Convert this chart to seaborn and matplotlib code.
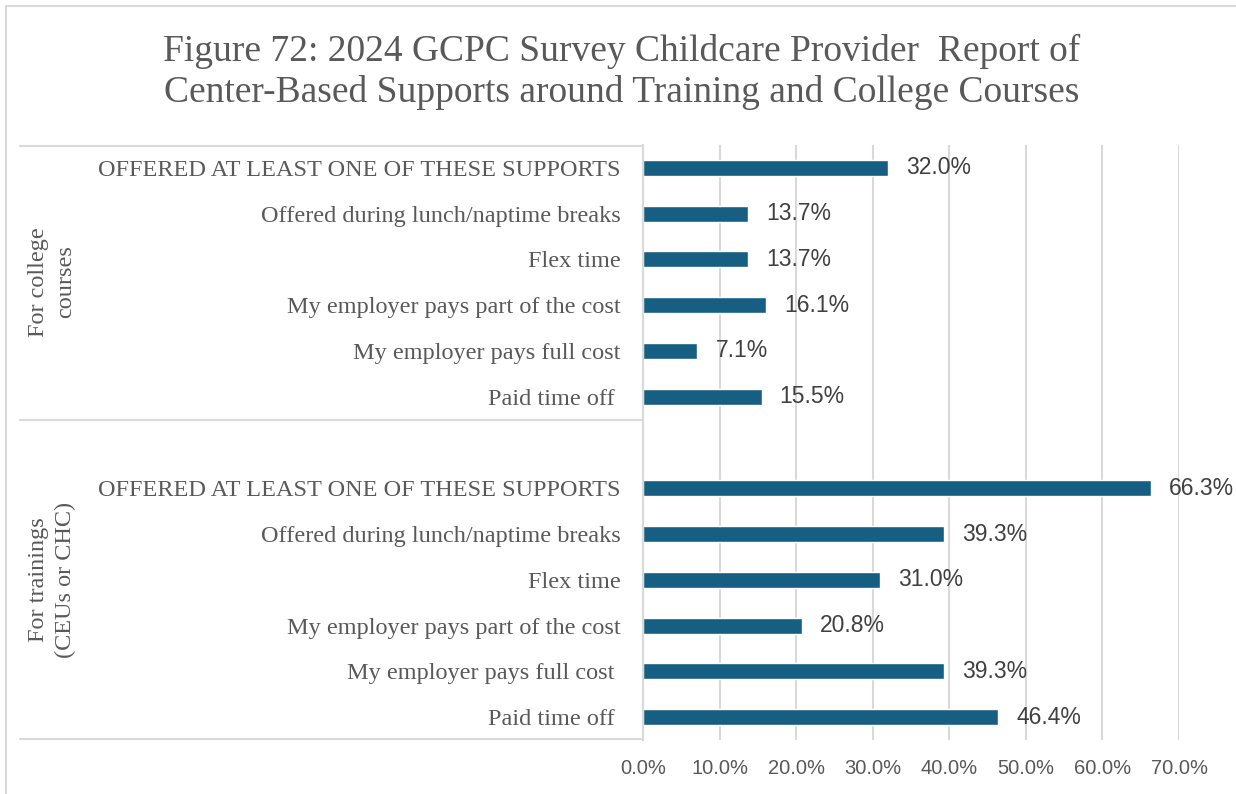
import matplotlib
matplotlib.use("Agg")
import matplotlib.pyplot as plt
from matplotlib.lines import Line2D
import seaborn as sns
import pandas as pd

# Survey results (percent of respondents)
categories_college = [
    "OFFERED AT LEAST ONE OF THESE SUPPORTS",
    "Offered during lunch/naptime breaks",
    "Flex time",
    "My employer pays part of the cost",
    "My employer pays full cost",
    "Paid time off ",
]
values_college = [32.0, 13.7, 13.7, 16.1, 7.1, 15.5]

categories_training = [
    "OFFERED AT LEAST ONE OF THESE SUPPORTS",
    "Offered during lunch/naptime breaks",
    "Flex time",
    "My employer pays part of the cost",
    "My employer pays full cost ",
    "Paid time off ",
]
values_training = [66.3, 39.3, 31.0, 20.8, 39.3, 46.4]

group_labels = ["For college\ncourses", "For trainings\n(CEUs or CHC)"]
x_ticks = [0, 10, 20, 30, 40, 50, 60, 70]
title = ("Figure 72: 2024 GCPC Survey Childcare Provider  Report of\n"
         "Center-Based Supports around Training and College Courses")

BAR = "#175F82"
GRID = "#D9D9D9"
TEXT = "#595959"
SERIF = ["Liberation Serif", "DejaVu Serif"]
SANS = ["Liberation Sans", "DejaVu Sans"]

# Build a long table with unique keys; an empty slot separates the two groups
keys_college = [f"college|{c}" for c in categories_college]
keys_training = [f"training|{c}" for c in categories_training]
gap_key = "training|"
order = keys_college + [gap_key] + keys_training
df = pd.DataFrame({
    "key": keys_college + keys_training,
    "value": values_college + values_training,
})
tick_text = categories_college + [""] + categories_training

W, H = 1236, 794
fig = plt.figure(figsize=(W / 100, H / 100), dpi=100)
sns.set_style("white")

def fx(px):
    return px / W

def fy(py):
    return 1 - py / H

ax_left, ax_right, ax_top, ax_bottom = 643, 1179, 145, 740
ax = fig.add_axes([fx(ax_left), fy(ax_bottom), fx(ax_right - ax_left), (ax_bottom - ax_top) / H])

sns.barplot(data=df, x="value", y="key", order=order, color=BAR,
            width=0.35, orient="h", ax=ax, saturation=1)

ax.set_xlim(0, 70)
ax.set_ylim(len(order) - 0.5, -0.5)
ax.set_xlabel("")
ax.set_ylabel("")
ax.set_xticks(x_ticks)
ax.set_xticklabels([f"{t:.1f}%" for t in x_ticks], fontsize=14.5, color=TEXT, family=SANS)
ax.set_yticks(range(len(order)))
ax.set_yticklabels(tick_text, fontsize=17.5, color=TEXT, family=SERIF)
ax.tick_params(axis="y", length=0, pad=16)
ax.tick_params(axis="x", length=0, pad=14)
ax.xaxis.grid(True, color=GRID, linewidth=1.5)
ax.yaxis.grid(False)
ax.set_axisbelow(True)
for side in ["top", "right", "bottom"]:
    ax.spines[side].set_visible(False)
ax.spines["left"].set_color(GRID)
ax.spines["left"].set_linewidth(1.5)

# Value labels at the end of each bar
for key, val in zip(df["key"], df["value"]):
    pos = order.index(key)
    ax.annotate(f"{val:.1f}%", xy=(val, pos), xytext=(13, 0),
                textcoords="offset points", va="center", ha="left",
                fontsize=16.5, color="#404040", family=SANS)

# Group separators in the category axis
for py in (146, 420, 739):
    fig.add_artist(Line2D([fx(20), fx(ax_left)], [fy(py), fy(py)],
                          color=GRID, linewidth=1.5))

# Rotated group labels
fig.text(fx(52), fy(282), group_labels[0], rotation=90, ha="center", va="center",
         fontsize=17.5, color=TEXT, family=SERIF, multialignment="center", linespacing=1.36)
fig.text(fx(52), fy(580), group_labels[1], rotation=90, ha="center", va="center",
         fontsize=17.5, color=TEXT, family=SERIF, multialignment="center", linespacing=1.36)

# Title
fig.text(fx(622), fy(72), title, ha="center", va="center", fontsize=27,
         color=TEXT, family=SERIF, linespacing=1.22)

# Chart frame
fig.add_artist(Line2D([fx(6), fx(6)], [fy(6), 0], color=GRID, linewidth=1.5))
fig.add_artist(Line2D([fx(6), 1], [fy(6), fy(6)], color=GRID, linewidth=1.5))

fig.savefig("out.png", dpi=100, facecolor="white")
